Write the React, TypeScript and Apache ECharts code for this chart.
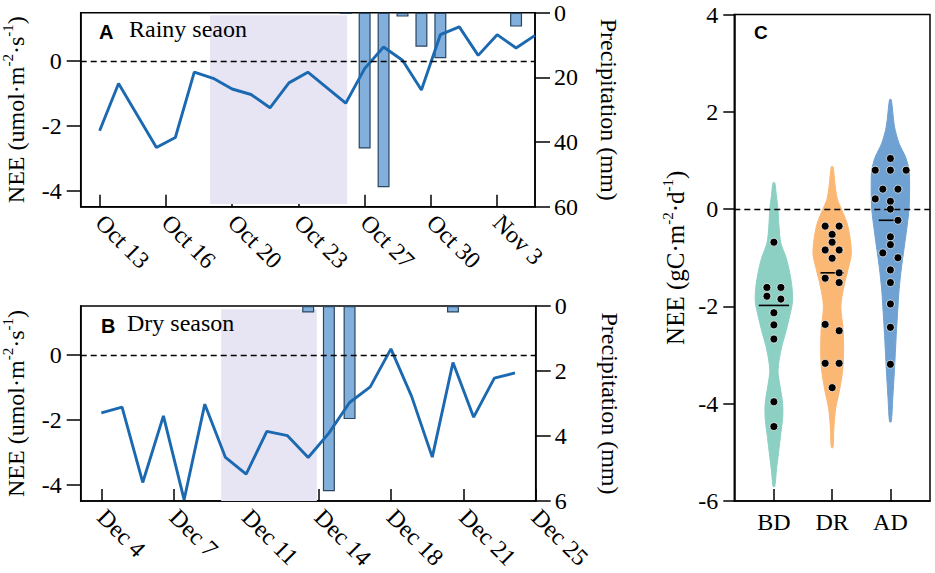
import React, { useEffect, useRef } from 'react';
import * as echarts from 'echarts';

// ---------- Panel A: rainy season ----------
const rainyDates = ['2019-10-13','2019-10-14','2019-10-16','2019-10-17','2019-10-18','2019-10-19','2019-10-20','2019-10-21','2019-10-22','2019-10-23','2019-10-24','2019-10-26','2019-10-27','2019-10-28','2019-10-29','2019-10-30','2019-10-31','2019-11-01','2019-11-02','2019-11-03','2019-11-04','2019-11-05'];
const rainyNEE = [-2.15,-0.69,-2.67,-2.36,-0.34,-0.53,-0.86,-1.03,-1.44,-0.67,-0.34,-1.30,-0.23,0.44,0.03,-0.89,0.82,1.06,0.18,0.82,0.41,0.80];
const rainyRainDates = ['2019-10-26','2019-10-27','2019-10-28','2019-10-29','2019-10-30','2019-10-31','2019-11-04'];
const rainyRain = [0.4,42,54,1.2,10.5,14.1,4.3];
const rainyTickDates = ['2019-10-13T00:00:00Z','2019-10-16T12:00:00Z','2019-10-20T00:00:00Z','2019-10-23T12:00:00Z','2019-10-27T00:00:00Z','2019-10-30T12:00:00Z','2019-11-03T00:00:00Z'];
const rainyTickLabels = ['Oct 13','Oct 16','Oct 20','Oct 23','Oct 27','Oct 30','Nov 3'];
const rainyRange = ['2019-10-12','2019-11-05'];
const rainyShade = ['2019-10-18T20:00:00Z','2019-10-26T02:00:00Z'];
const rainyRainMax = 60;
const rainyRainStep = 20;

// ---------- Panel B: dry season ----------
const dryDates = ['2019-12-04','2019-12-05','2019-12-06','2019-12-07','2019-12-08','2019-12-09','2019-12-10','2019-12-11','2019-12-12','2019-12-13','2019-12-14','2019-12-15','2019-12-16','2019-12-17','2019-12-18','2019-12-19','2019-12-20','2019-12-21','2019-12-22','2019-12-23','2019-12-24'];
const dryNEE = [-1.79,-1.61,-3.93,-1.88,-4.46,-1.52,-3.16,-3.67,-2.36,-2.49,-3.16,-2.41,-1.47,-0.99,0.18,-1.28,-3.15,-0.24,-1.92,-0.72,-0.56];
const dryRainDates = ['2019-12-14','2019-12-15','2019-12-16','2019-12-21'];
const dryRain = [0.2,5.7,3.48,0.2];
const dryTickDates = ['2019-12-04T00:00:00Z','2019-12-07T12:00:00Z','2019-12-11T00:00:00Z','2019-12-14T12:00:00Z','2019-12-18T00:00:00Z','2019-12-21T12:00:00Z','2019-12-25T00:00:00Z'];
const dryTickLabels = ['Dec 4','Dec 7','Dec 11','Dec 14','Dec 18','Dec 21','Dec 25'];
const dryRange = ['2019-12-03','2019-12-25'];
const dryShade = ['2019-12-09T19:00:00Z','2019-12-14T10:00:00Z'];
const dryRainMax = 6;
const dryRainStep = 2;

const neeTicks = [-4, -2, 0];
const neeRange = [-4.5, 1.5];
const shadeTop = [1.42, 1.4];
const shadeBottom = [-4.42, -4.5];

// ---------- Panel C: violins ----------
const groups = ['BD', 'DR', 'AD'];
// [x offset from group centre, NEE]
const bdPoints = [[0,-0.68],[-0.12,-1.61],[0.12,-1.61],[-0.12,-1.79],[0.12,-1.85],[0,-2.13],[0,-2.38],[0,-2.67],[0,-3.96],[0,-4.47]];
const drPoints = [[-0.12,-0.35],[0.12,-0.35],[0,-0.52],[0,-0.68],[-0.12,-0.84],[0.12,-0.84],[0,-1.01],[0.12,-1.31],[-0.12,-1.42],[0.12,-1.51],[-0.12,-2.37],[0.12,-2.5],[-0.12,-3.17],[0.12,-3.17],[0,-3.67]];
const adPoints = [[0,1.04],[-0.26,0.8],[0,0.8],[0.27,0.8],[-0.13,0.41],[0.13,0.41],[-0.26,0.21],[0,0.16],[0,0.0],[0.13,-0.23],[0,-0.57],[0,-0.73],[-0.13,-0.9],[0.13,-1.0],[0,-1.25],[0,-1.51],[0,-1.95],[0,-2.43],[0,-3.19]];
// violin outlines: [NEE, half width in x units]
const bdViolin = [[0.54,0.015],[0.3,0.04],[0,0.07],[-0.4,0.09],[-0.7,0.12],[-1.0,0.21],[-1.3,0.27],[-1.6,0.31],[-1.9,0.32],[-2.2,0.27],[-2.5,0.21],[-2.8,0.14],[-3.1,0.09],[-3.35,0.07],[-3.6,0.1],[-4.0,0.15],[-4.3,0.15],[-4.6,0.12],[-5.0,0.08],[-5.4,0.04],[-5.7,0.015]];
const drViolin = [[0.87,0.015],[0.5,0.05],[0.2,0.09],[0,0.16],[-0.35,0.27],[-0.9,0.33],[-1.25,0.27],[-1.6,0.2],[-2.0,0.15],[-2.5,0.19],[-3.2,0.19],[-3.7,0.13],[-4.1,0.06],[-4.5,0.03],[-4.9,0.015]];
const adViolin = [[2.25,0.015],[1.7,0.07],[1.35,0.15],[1.07,0.26],[0.8,0.32],[0.45,0.33],[0,0.32],[-0.5,0.27],[-1.2,0.19],[-1.65,0.15],[-2.0,0.13],[-2.6,0.1],[-3.3,0.07],[-3.9,0.04],[-4.37,0.015]];
const medians = [-1.98, -1.31, -0.23];
const medianHalf = [0.26, 0.2, 0.2];
const cTicksRange = [-6, 4];
const cStep = 2;

const SERIF = "'Liberation Serif', 'Times New Roman', serif";
const SANS = "'Liberation Sans', Arial, sans-serif";
const violinColors = ['#8cd0c4', '#fbb874', '#6fa2d2'];

const t = (s: string) => Date.parse(s.length === 10 ? s + 'T00:00:00Z' : s);

function nearestLabel(v: number, ticks: number[], labels: string[]) {
  let best = 0;
  for (let i = 1; i < ticks.length; i++) if (Math.abs(ticks[i] - v) < Math.abs(ticks[best] - v)) best = i;
  return labels[best];
}

const axisLineStyle = { show: true, onZero: false, lineStyle: { color: '#000', width: 1.5 } };

function timeXAxis(gridIndex: number, range: string[], tickDates: string[], tickLabels: string[]) {
  const ticks = tickDates.map(t);
  return {
    type: 'value', gridIndex, min: t(range[0]), max: t(range[1]),
    axisLine: axisLineStyle,
    axisTick: { show: true, inside: true, length: 12, customValues: ticks, lineStyle: { color: '#000', width: 1.5 } },
    axisLabel: {
      show: true, customValues: ticks, rotate: -45, margin: 12, color: '#000', fontSize: 24, fontFamily: SERIF,
      formatter: (v: number) => nearestLabel(v, ticks, tickLabels),
    },
    splitLine: { show: false },
  };
}

const neeName = 'NEE (umol·m{s|-2}·s{s|-1})';
const nameStyle = {
  fontSize: 24, color: '#000', fontFamily: SERIF, lineHeight: 30,
  rich: { s: { fontSize: 15, lineHeight: 15, verticalAlign: 'top', color: '#000', fontFamily: SERIF } },
};

function neeYAxis(gridIndex: number) {
  return {
    type: 'value', gridIndex, min: neeRange[0], max: neeRange[1],
    name: neeName, nameLocation: 'middle', nameGap: 50, nameTextStyle: nameStyle,
    axisLine: axisLineStyle,
    axisTick: { show: true, inside: false, length: 14, customValues: neeTicks, lineStyle: { color: '#000', width: 1.5 } },
    axisLabel: { show: true, customValues: neeTicks, margin: 19, color: '#000', fontSize: 24, fontFamily: SERIF },
    splitLine: { show: false },
  };
}

function rainYAxis(gridIndex: number, max: number, step: number) {
  return {
    type: 'value', gridIndex, min: 0, max, interval: step, inverse: true, position: 'right',
    name: 'Precipitation (mm)', nameLocation: 'middle', nameGap: 62, nameRotate: -90,
    nameTextStyle: { fontSize: 24, color: '#000', fontFamily: SERIF },
    axisLine: axisLineStyle,
    axisTick: { show: true, inside: false, length: 15, lineStyle: { color: '#000', width: 1.5 } },
    axisLabel: { show: true, margin: 19, color: '#000', fontSize: 24, fontFamily: SERIF },
    splitLine: { show: false },
  };
}

function panelSeries(xi: number, yNee: number, yRain: number, dates: string[], nee: number[], rainDates: string[], rain: number[], shade: string[], sTop: number, sBottom: number) {
  const line = dates.map((d, i) => [t(d), nee[i]]);
  const bars = rainDates.map((d, i) => [t(d), rain[i]]);
  return [
    {
      type: 'line', xAxisIndex: xi, yAxisIndex: yNee, z: 1, data: line, showSymbol: false, silent: true,
      lineStyle: { opacity: 0 },
      markArea: { silent: true, itemStyle: { color: '#e7e5f4' }, data: [[{ xAxis: t(shade[0]), yAxis: sTop }, { xAxis: t(shade[1]), yAxis: sBottom }]] },
      markLine: { silent: true, symbol: ['none', 'none'], label: { show: false }, lineStyle: { color: '#000', type: [6, 4], width: 1.4 }, data: [{ yAxis: 0 }] },
    },
    {
      type: 'bar', xAxisIndex: xi, yAxisIndex: yRain, z: 2, data: bars, barWidth: 12,
      itemStyle: { color: '#82afdb', borderColor: '#2a4661', borderWidth: 1.2 },
    },
    {
      type: 'line', xAxisIndex: xi, yAxisIndex: yNee, z: 3, data: line, showSymbol: false,
      lineStyle: { color: '#1b69b0', width: 2.9 },
    },
  ];
}

export default function App() {
  const ref = useRef<HTMLDivElement>(null);
  useEffect(() => {
    if (!ref.current) return;
    const chart = echarts.init(ref.current, null, { renderer: 'svg' });
    const violins = [bdViolin, drViolin, adViolin];
    const pointSets = [bdPoints, drPoints, adPoints];
    const scatterData: number[][] = [];
    pointSets.forEach((pts, g) => pts.forEach(([dx, v]) => scatterData.push([g + 1 + dx, v])));

    const option: any = {
      animation: false,
      textStyle: { fontFamily: SERIF, color: '#000' },
      grid: [
        { left: 80.7, top: 12.7, width: 454.3, height: 194, show: true, borderColor: '#000', borderWidth: 1.5, backgroundColor: 'transparent', containLabel: false, outerBoundsMode: 'none' },
        { left: 80.7, top: 306, width: 455, height: 195, show: true, borderColor: '#000', borderWidth: 1.5, backgroundColor: 'transparent', containLabel: false, outerBoundsMode: 'none' },
        { left: 734.3, top: 14.5, width: 195.7, height: 486.5, show: true, borderColor: '#000', borderWidth: 1.5, backgroundColor: 'transparent', containLabel: false, outerBoundsMode: 'none' },
      ],
      xAxis: [
        timeXAxis(0, rainyRange, rainyTickDates, rainyTickLabels),
        timeXAxis(1, dryRange, dryTickDates, dryTickLabels),
        {
          type: 'value', gridIndex: 2, min: 0.32, max: 3.68,
          axisLine: axisLineStyle,
          axisTick: { show: true, inside: true, length: 12, customValues: [1, 2, 3], lineStyle: { color: '#000', width: 1.5 } },
          axisLabel: { show: true, customValues: [1, 2, 3], margin: 9, color: '#000', fontSize: 24, fontFamily: SERIF, formatter: (v: number) => groups[Math.round(v) - 1] },
          splitLine: { show: false },
        },
      ],
      yAxis: [
        neeYAxis(0),
        rainYAxis(0, rainyRainMax, rainyRainStep),
        neeYAxis(1),
        rainYAxis(1, dryRainMax, dryRainStep),
        {
          type: 'value', gridIndex: 2, min: cTicksRange[0], max: cTicksRange[1], interval: cStep,
          name: 'NEE (gC·m{s|-2}·d{s|-1})', nameLocation: 'middle', nameGap: 44, nameTextStyle: { ...nameStyle, fontSize: 25 },
          axisLine: axisLineStyle,
          axisTick: { show: true, inside: false, length: 11, lineStyle: { color: '#000', width: 1.5 } },
          axisLabel: { show: true, margin: 16, color: '#000', fontSize: 24, fontFamily: SERIF },
          splitLine: { show: false },
        },
      ],
      series: [
        ...panelSeries(0, 0, 1, rainyDates, rainyNEE, rainyRainDates, rainyRain, rainyShade, shadeTop[0], shadeBottom[0]),
        ...panelSeries(1, 2, 3, dryDates, dryNEE, dryRainDates, dryRain, dryShade, shadeTop[1], shadeBottom[1]),
        {
          type: 'custom', xAxisIndex: 2, yAxisIndex: 4, z: 2,
          data: groups.map((_, i) => [i + 1, medians[i]]),
          encode: { x: 0, y: 1 },
          renderItem: (params: any, api: any) => {
            const i = params.dataIndex;
            const xc = api.value(0);
            const outline = violins[i];
            const right = outline.map(([v, w]) => api.coord([xc + w, v]));
            const left = outline.slice().reverse().map(([v, w]) => api.coord([xc - w, v]));
            const p1 = api.coord([xc - medianHalf[i], medians[i]]);
            const p2 = api.coord([xc + medianHalf[i], medians[i]]);
            return {
              type: 'group',
              children: [
                { type: 'polygon', shape: { points: right.concat(left), smooth: 0.3 }, style: { fill: violinColors[i], stroke: violinColors[i], lineWidth: 1 } },
                { type: 'line', shape: { x1: p1[0], y1: p1[1], x2: p2[0], y2: p2[1] }, style: { stroke: '#000', lineWidth: 1.6 } },
              ],
            };
          },
        },
        {
          type: 'scatter', xAxisIndex: 2, yAxisIndex: 4, z: 4, data: scatterData, symbolSize: 8,
          itemStyle: { color: '#000', borderColor: 'rgba(255,255,255,0.7)', borderWidth: 1, opacity: 1 },
          markLine: { silent: true, symbol: ['none', 'none'], label: { show: false }, lineStyle: { color: '#000', type: [6, 4], width: 1.4 }, data: [{ yAxis: 0 }] },
        },
      ],
      graphic: [
        { type: 'text', z: 100, left: 99, top: 22, style: { text: 'A', font: `bold 20px ${SANS}`, fill: '#000' } },
        { type: 'text', z: 100, left: 129, top: 17, style: { text: 'Rainy seaon', font: `24px ${SERIF}`, fill: '#000' } },
        { type: 'text', z: 100, left: 101, top: 316, style: { text: 'B', font: `bold 20px ${SANS}`, fill: '#000' } },
        { type: 'text', z: 100, left: 127, top: 311, style: { text: 'Dry season', font: `24px ${SERIF}`, fill: '#000' } },
        { type: 'text', z: 100, left: 754, top: 23, style: { text: 'C', font: `bold 19px ${SANS}`, fill: '#000' } },
      ],
    };
    chart.setOption(option);
    return () => chart.dispose();
  }, []);
  return <div ref={ref} style={{ position: 'absolute', left: 0, top: 0, width: 935, height: 573 }} />;
}
